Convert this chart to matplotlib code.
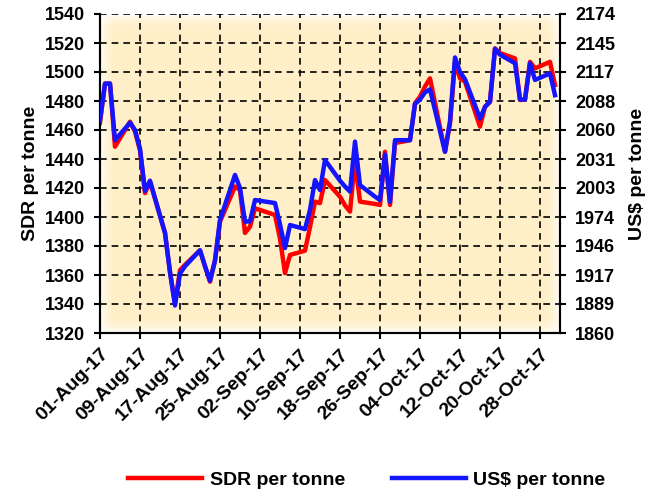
import numpy as np
import pandas as pd
import matplotlib
matplotlib.use('Agg')
import matplotlib.pyplot as plt
import matplotlib.dates as mdates

dates = ['2017-08-01', '2017-08-02', '2017-08-03', '2017-08-04', '2017-08-07', '2017-08-08',
         '2017-08-09', '2017-08-10', '2017-08-11', '2017-08-14', '2017-08-15', '2017-08-16',
         '2017-08-17', '2017-08-18', '2017-08-21', '2017-08-22', '2017-08-23', '2017-08-24',
         '2017-08-25', '2017-08-28', '2017-08-29', '2017-08-30', '2017-08-31',
         '2017-09-01', '2017-09-05', '2017-09-06', '2017-09-07', '2017-09-08', '2017-09-11',
         '2017-09-12', '2017-09-13', '2017-09-14', '2017-09-15', '2017-09-18', '2017-09-19',
         '2017-09-20', '2017-09-21', '2017-09-22', '2017-09-25', '2017-09-26', '2017-09-27',
         '2017-09-28', '2017-09-29',
         '2017-10-02', '2017-10-03', '2017-10-04', '2017-10-05', '2017-10-06', '2017-10-09',
         '2017-10-10', '2017-10-11', '2017-10-12', '2017-10-13', '2017-10-16', '2017-10-17',
         '2017-10-18', '2017-10-19', '2017-10-20', '2017-10-23', '2017-10-24', '2017-10-25',
         '2017-10-26', '2017-10-27', '2017-10-30', '2017-10-31']

sdr = [1465, 1492, 1492, 1448.5, 1465.7, 1459, 1446, 1416.5, 1424.4, 1389, 1362, 1340.6,
       1363.4, 1367, 1377, 1366, 1355.4, 1370, 1396.8, 1421, 1418.6, 1389, 1393.3,
       1406, 1401.4, 1385, 1361.3, 1373.8, 1376.8, 1393, 1410.6, 1409.6, 1425.5, 1414, 1408,
       1403.7, 1439.3, 1410.6, 1409, 1408.3, 1445, 1408.3, 1451,
       1453, 1478.4, 1483, 1490, 1495.6, 1445, 1464.6, 1507, 1495.6, 1493.3, 1462.3, 1476,
       1479.5, 1516.3, 1513, 1509.4, 1480.7, 1481, 1507, 1502.5, 1507, 1491]

usd = [2069.8, 2105.5, 2105.5, 2049.8, 2067.0, 2059.8, 2041.3, 1999.9, 2009.9, 1958.5, 1919.9,
       1887.1, 1918.5, 1925.7, 1941.4, 1925.7, 1911.4, 1931.4, 1971.3, 2015.6, 2002.7, 1969.6,
       1969.9,
       1990.9, 1987.9, 1967.0, 1943.6, 1966.3, 1962.3, 1981.3, 2010.6, 2000.7, 2030.3, 2009.9,
       2004.2, 1999.2, 2048.4, 2005.6, 1994.2, 1990.9, 2035.6, 1989.3, 2049.8,
       2049.8, 2085.5, 2089.8, 2096.9, 2099.8, 2038.4, 2068.4, 2131.2, 2116.9, 2109.8, 2071.2,
       2082.7, 2087.6, 2139.7, 2134.0, 2125.5, 2089.8, 2089.8, 2125.5, 2109.1, 2115.5, 2094.1]

sdr_ticks = [1320, 1340, 1360, 1380, 1400, 1420, 1440, 1460, 1480, 1500, 1520, 1540]
usd_ticks = [1860, 1889, 1917, 1946, 1974, 2003, 2031, 2060, 2088, 2117, 2145, 2174]

plt.rcParams['font.family'] = ['Liberation Sans', 'DejaVu Sans']
plt.rcParams['font.weight'] = 'bold'

x = pd.to_datetime(dates)

fig = plt.figure(figsize=(6.61, 4.92), dpi=100)
ax = fig.add_axes([100 / 661, 1 - 333 / 492, 460 / 661, 319 / 492])

# soft-edged yellow plot background
h, w = 200, 300
yy = np.linspace(0, 1, h)[:, None]
xx = np.linspace(0, 1, w)[None, :]
fx = np.clip(np.minimum(xx, 1 - xx) / 0.03, 0, 1)
fy = np.clip(np.minimum(yy, 1 - yy) / 0.04, 0, 1)
alpha = np.sqrt(fx * fy) * np.ones((h, w))
img = np.zeros((h, w, 4))
img[..., 0] = 1.0
img[..., 1] = 239 / 255
img[..., 2] = 200 / 255
img[..., 3] = alpha
ax.imshow(img, extent=[0, 1, 0, 1], transform=ax.transAxes, aspect='auto', zorder=0)

ax.plot(x, sdr, color='#FF0000', lw=3.2, zorder=3, label='SDR per tonne')
ax.set_xlim(pd.Timestamp('2017-08-01'), pd.Timestamp('2017-11-01'))
ax.set_ylim(1320, 1540)
ax.set_yticks(sdr_ticks)
ax.set_xticks(pd.date_range('2017-08-01', '2017-10-28', freq='8D'))
ax.xaxis.set_major_formatter(mdates.DateFormatter('%d-%b-%y'))
ax.grid(True, color='black', linestyle=(0, (4, 3)), lw=1.2)
ax.set_axisbelow(True)
ax.tick_params(labelsize=13, length=4, width=1.5, pad=7)
ax.tick_params(axis='x', labelsize=14, pad=5)
plt.setp(ax.get_xticklabels(), rotation=45, ha='right', rotation_mode='anchor')
ax.set_ylabel('SDR per tonne', fontsize=14, fontweight='bold', labelpad=4)

ax2 = ax.twinx()
ax2.plot(x, usd, color='#1414FF', lw=3.2, zorder=3, label='US$ per tonne')
ax2.set_ylim(1860, 2174)
ax2.set_yticks(usd_ticks)
ax2.tick_params(labelsize=13, length=4, width=1.5, pad=7)
ax2.set_ylabel('US$ per tonne', fontsize=14, fontweight='bold', labelpad=10)

for a in (ax, ax2):
    a.spines['top'].set_visible(False)
    for s in ('left', 'right', 'bottom'):
        a.spines[s].set_linewidth(1.5)
        a.spines[s].set_color('black')

handles = ax.get_lines() + ax2.get_lines()
fig.legend(handles, [hd.get_label() for hd in handles], loc='lower center',
           bbox_to_anchor=(0.555, -0.03), ncol=2, frameon=False,
           prop={'size': 14, 'weight': 'bold'}, handlelength=3.8,
           handletextpad=0.4, columnspacing=2.4)

fig.savefig('out.png', dpi=100)
